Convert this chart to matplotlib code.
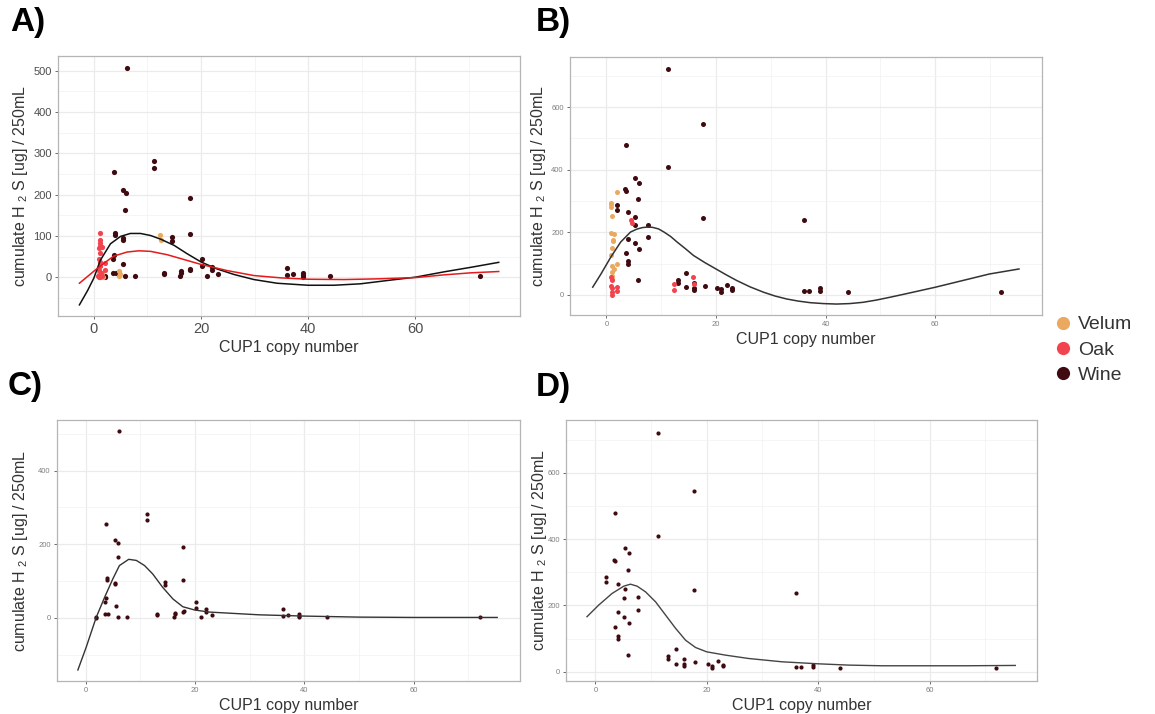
"""plot.py — CUP1 copy number vs cumulate H2S, four panels → out.png"""
import matplotlib
matplotlib.use("Agg")
import matplotlib.pyplot as plt
from matplotlib.lines import Line2D
from matplotlib.ticker import MultipleLocator

plt.rcParams["font.family"] = ["Liberation Sans", "DejaVu Sans"]
plt.rcParams["mathtext.fontset"] = "custom"
plt.rcParams["mathtext.rm"] = "Liberation Sans"

# --- data ----------------------------------------------------------------
# experiment 1 (panels A and C)
wine1_x = [2, 2, 3.7, 5.4, 6.0, 5.9, 6.1, 11.2, 11.2, 17.9, 17.9, 4.0, 4.0, 3.7, 3.6,
           3.5, 4.2, 5.4, 5.4, 5.5, 5.9, 7.6, 13.1, 13.1, 14.6, 14.6, 16.1, 16.3, 16.3,
           18.0, 17.9, 20.2, 20.2, 21.1, 22.0, 22.0, 23.1, 36.1, 36.1, 37.1, 39.1, 39.1,
           39.1, 44.1, 72.1]
wine1_y = [2, 0, 254, 211, 204, 164, 508, 282, 265, 193, 104, 107, 102, 54, 43,
           9, 9, 94, 91, 31, 2, 2, 11, 8, 97, 88, 2, 10, 14,
           19, 17, 44, 27, 2, 24, 17, 7, 23, 5, 7, 10, 6,
           1, 2, 2]
velum1_x = [0.9, 1.5, 1.7, 4.6, 4.6, 4.8, 12.4, 12.5]
velum1_y = [10, 10, 0, 14, 2, 8, 102, 90]
oak1_x = [1.1, 1.1, 1.2, 1.1, 1.0, 1.5, 1.1, 1.0, 1.1, 1.2, 1.0, 1.1, 0.9, 1.2, 1.5,
          2.0, 2.0, 1.3, 0.8]
oak1_y = [108, 90, 84, 76, 70, 73, 58, 44, 36, 26, 18, 6, 0, 0, 2,
          34, 17, 10, 2]

# experiment 2 (panels B and D)
wine2_x = [11.2, 17.7, 3.6, 11.2, 5.3, 6.0, 3.4, 3.5, 5.8, 2.0, 2.0, 4.0, 5.3, 17.7,
           36.0, 5.2, 7.6, 4.0, 7.6, 5.2, 6.0, 3.6, 4.0, 4.0, 5.8, 14.5, 13.0, 13.0,
           14.5, 16.0, 16.0, 16.0, 17.9, 20.2, 20.9, 20.9, 22.0, 23.0, 23.0, 36.0,
           37.0, 39.0, 39.0, 44.0, 72.0]
wine2_y = [721, 546, 478, 408, 374, 359, 338, 333, 308, 287, 270, 266, 250, 246,
           238, 223, 225, 179, 186, 166, 146, 135, 108, 98, 49, 69, 48, 39,
           24, 37, 22, 16, 30, 22, 18, 11, 33, 21, 16, 14,
           14, 21, 14, 11, 11]
velum2_x = [2.0, 0.9, 0.9, 0.9, 1.0, 0.9, 1.4, 1.15, 1.15, 1.1, 0.9, 2.0, 1.0, 1.4,
            1.0, 1.0, 1.1]
velum2_y = [329, 295, 289, 281, 251, 198, 194, 176, 172, 150, 129, 99, 94, 83,
            73, 62, 51]
oak2_x = [4.5, 4.7, 0.9, 1.1, 0.8, 1.1, 1.1, 1.1, 2.0, 2.0, 12.4, 12.4, 15.8, 15.9]
oak2_y = [238, 230, 57, 48, 30, 22, 9, 1, 25, 12, 35, 16, 57, 35]

# fitted curves (read as points along each line)
fitA_black_x = [-2.7, -1.2, 0, 1.2, 3.1, 5, 6.8, 8.7, 10.6, 12.5, 15, 17.4, 20, 23,
                26.2, 29.9, 34.2, 40, 44.8, 49.8, 54.8, 60, 65.4, 70.4, 75.6]
fitA_black_y = [-67, -33, -2, 41, 81, 99, 106, 106, 101, 92, 77, 57, 37, 20,
                6.5, -5.7, -14.6, -19.5, -19.5, -16, -8, 0, 13, 24, 36]
fitA_red_x = [-2.7, -1.2, 0, 1.9, 3.7, 6.2, 8.4, 10.6, 13.7, 17.4, 20, 24.9, 29.9,
              34.9, 40, 46.7, 52.9, 60, 65.4, 70.4, 75.6]
fitA_red_y = [-14.6, 1.6, 14.6, 34, 51, 61, 64, 62.6, 54.5, 40.7, 31, 16, 4,
              -1.6, -4.9, -5.7, -4, -1, 5.7, 10.6, 13.8]
fitB_x = [-2.5, -1.0, 0.8, 2.6, 4.4, 5.5, 6.5, 7.5, 8.4, 9.5, 10.5, 11.7, 12.9, 14.4,
          15.9, 18.0, 20, 21.9, 23.8, 26.2, 28.7, 30.8, 32.9, 35.0, 37.2, 39.6, 42,
          44.4, 46.8, 49.2, 51.7, 53.8, 55.9, 60, 65, 69.9, 75.3]
fitB_y = [25, 67, 121, 169, 201, 210, 215, 217, 216, 211, 201, 187, 169, 148,
          126, 103, 83, 64, 46, 26, 8.6, -3.5, -12.8, -19.5, -24.6, -27.5, -29,
          -27.5, -23.5, -16.5, -7.5, 0.5, 8.6, 24.6, 46, 67, 83]
fitC_x = [-1.4, 0.1, 1.95, 3.5, 5.0, 6.2, 7.9, 9.3, 10.8, 12.3, 14.1, 16.0, 17.8,
          20, 22.7, 26.9, 31.8, 40, 50, 60, 75.3]
fitC_y = [-142, -81, 1, 56, 106, 142, 159, 156, 142, 119, 83, 51, 30,
          21, 15.5, 12, 8, 4.6, 1.8, 0.9, 0.9]
fitD_x = [-1.5, 0.6, 3.0, 5.1, 6.3, 7.5, 9.0, 10.8, 12.6, 14.4, 16.2, 18.0, 20.0,
          23.4, 27.5, 33.5, 39.9, 45.5, 51.5, 60, 66.5, 75.4]
fitD_y = [166, 201, 236, 258, 264, 258, 241, 211, 171, 131, 95, 73, 60,
          50, 40, 30, 24, 20, 18, 18, 18, 19]

groups = ["Velum", "Oak", "Wine"]
colors = {"Velum": "#EBA95F", "Oak": "#F2444F", "Wine": "#3F0B10"}

YLABEL = "cumulate H $_{2}$ S [ug] / 250mL"
XLABEL = "CUP1 copy number"

W, H = 1155, 714
fig = plt.figure(figsize=(W / 100, H / 100), dpi=100)


def box(l, t, r, b):
    return [l / W, 1 - b / H, (r - l) / W, (b - t) / H]


def style(ax, xlim, ylim, ymaj, xsize, ysize, tcol, ylab_x):
    ax.set_xlim(*xlim)
    ax.set_ylim(*ylim)
    ax.xaxis.set_major_locator(MultipleLocator(20))
    ax.xaxis.set_minor_locator(MultipleLocator(10))
    ax.yaxis.set_major_locator(MultipleLocator(ymaj))
    ax.yaxis.set_minor_locator(MultipleLocator(ymaj / 2))
    ax.grid(True, which="major", color="#EBEBEB", lw=0.9)
    ax.grid(True, which="minor", color="#F2F2F2", lw=0.5)
    ax.set_axisbelow(True)
    for s in ax.spines.values():
        s.set_color("#B5B5B5")
        s.set_linewidth(0.9)
    ax.tick_params(which="minor", length=0)
    ax.tick_params(axis="x", which="major", length=2.5, width=0.6, color="#555555",
                   labelsize=xsize, labelcolor=tcol, pad=2)
    ax.tick_params(axis="y", which="major", length=2.5, width=0.6, color="#555555",
                   labelsize=ysize, labelcolor=tcol, pad=2)
    ax.set_xlabel(XLABEL, fontsize=11.5, color="#333333", labelpad=3)
    ax.set_ylabel(YLABEL, fontsize=11.5, color="#333333")
    # right edge of the rotated label, in pixels -> axes fraction
    pos = ax.get_position()
    ax.yaxis.set_label_coords((ylab_x / W - pos.x0) / pos.width, 0.5)


# A
axA = fig.add_axes(box(58, 56, 519.6, 316))
axA.scatter(wine1_x, wine1_y, s=14, color=colors["Wine"], lw=0, zorder=2)
axA.scatter(velum1_x, velum1_y, s=14, color=colors["Velum"], lw=0, zorder=2)
axA.scatter(oak1_x, oak1_y, s=14, color=colors["Oak"], lw=0, zorder=2)
axA.plot(fitA_black_x, fitA_black_y, color="#111111", lw=1.1, zorder=3)
axA.plot(fitA_red_x, fitA_red_y, color="#E41A1C", lw=1.1, zorder=3)
style(axA, (-6.7, 79.5), (-94, 536), 100, 10.5, 8, "#4D4D4D", 30)
axA.set_yticks([0, 100, 200, 300, 400, 500])

# B
axB = fig.add_axes(box(570, 57.3, 1042, 314.7))
axB.scatter(wine2_x, wine2_y, s=13, color=colors["Wine"], lw=0, zorder=2)
axB.scatter(velum2_x, velum2_y, s=13, color=colors["Velum"], lw=0, zorder=2)
axB.scatter(oak2_x, oak2_y, s=13, color=colors["Oak"], lw=0, zorder=2)
axB.plot(fitB_x, fitB_y, color="#333333", lw=1.1, zorder=3)
style(axB, (-6.65, 79.5), (-63, 759), 200, 5.5, 5.5, "#7F7F7F", 548)
axB.set_yticks([0, 200, 400, 600])

# C
axC = fig.add_axes(box(57.1, 420, 519.6, 681))
axC.scatter(wine1_x, wine1_y, s=9, color=colors["Wine"], lw=0, zorder=2)
axC.plot(fitC_x, fitC_y, color="#333333", lw=1.0, zorder=3)
style(axC, (-5.2, 79.4), (-172, 538), 200, 5.5, 5.5, "#7F7F7F", 30)
axC.set_yticks([0, 200, 400])

# D
axD = fig.add_axes(box(566.4, 420, 1037, 680.7))
axD.scatter(wine2_x, wine2_y, s=9, color=colors["Wine"], lw=0, zorder=2)
axD.plot(fitD_x, fitD_y, color="#444444", lw=1.0, zorder=3)
style(axD, (-5.2, 79.3), (-27, 759), 200, 5.5, 5.5, "#7F7F7F", 549)
axD.set_yticks([0, 200, 400, 600])

# panel letters
for lab, x, y in [("A)", 10, 22), ("B)", 536, 22), ("C)", 8, 386), ("D)", 536, 388)]:
    fig.text(x / W, 1 - y / H, lab, fontsize=24, fontweight="bold", va="center",
             ha="left")

# legend
handles = [Line2D([], [], ls="", marker="o", ms=9.5, mec="none", color=colors[g])
           for g in groups]
fig.legend(handles, groups, loc="center left", bbox_to_anchor=(1045 / W, 1 - 350 / H),
           frameon=False, fontsize=14, handlelength=0.8, handletextpad=0.4,
           labelspacing=0.4, labelcolor="#333333", borderpad=0)

fig.savefig("out.png", dpi=100)
print("wrote out.png")
